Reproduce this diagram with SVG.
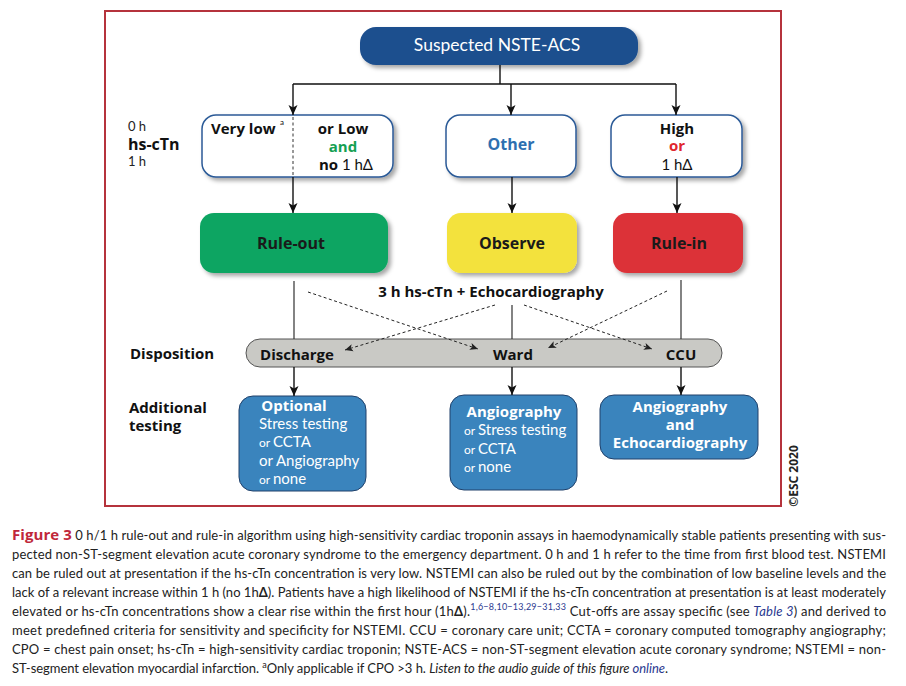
<svg xmlns="http://www.w3.org/2000/svg" width="906" height="686" viewBox="0 0 906 686">
<defs>
<filter id="sh" x="-10%" y="-10%" width="130%" height="140%">
<feDropShadow dx="3" dy="3" stdDeviation="2" flood-color="#000" flood-opacity="0.35"/>
</filter>
<marker id="ah" viewBox="0 0 10 10" refX="10" refY="5" markerWidth="10" markerHeight="10" markerUnits="userSpaceOnUse" orient="auto">
<path d="M0,0.5 L10,5 L0,9.5 L2.5,5 z" fill="#111"/>
</marker>
<marker id="ahs" viewBox="0 0 10 10" refX="10" refY="5" markerWidth="8" markerHeight="8" markerUnits="userSpaceOnUse" orient="auto">
<path d="M0,0.5 L10,5 L0,9.5 L2.5,5 z" fill="#222"/>
</marker>
</defs>
<style>
.b{font-family:"Open Sans","Liberation Sans",sans-serif;font-weight:bold}
.r{font-family:Lato,"Liberation Sans",sans-serif}
.cap{font-family:Lato,"Liberation Sans",sans-serif;font-size:13px;fill:#222}
.ln{stroke:#111;stroke-width:1.4;fill:none}
.ln2{stroke:#333;stroke-width:1.2;fill:none}
.dsh{stroke:#222;stroke-width:1;stroke-dasharray:3,2.5;fill:none}
.wb{fill:#fff;stroke:#2b5a97;stroke-width:1.5}
.bb{fill:#3a84bd;stroke:#20406a;stroke-width:1}
.m{text-anchor:middle}
</style>
<rect x="105" y="11" width="676" height="495" fill="#fff" stroke="#b5333c" stroke-width="2"/>

<g id="n-suspected">
<rect x="360" y="27" width="278" height="38" rx="16" fill="#1e4f8e" filter="url(#sh)"/>
<text class="r m" x="497" y="51" font-size="17.5" fill="#fff">Suspected NSTE-ACS</text>
</g>

<g id="labels-left">
<text class="r" x="128" y="131" font-size="13" fill="#222">0 h</text>
<text class="b" x="128" y="150" font-size="16" fill="#111">hs-cTn</text>
<text class="r" x="128" y="166" font-size="13" fill="#222">1 h</text>
<text class="b" x="130" y="359" font-size="15" fill="#111">Disposition</text>
<text class="b" x="129" y="413" font-size="15" fill="#111">Additional</text>
<text class="b" x="129" y="431" font-size="15" fill="#111">testing</text>
</g>

<g id="n-low">
<rect class="wb" x="202" y="115" width="191" height="62" rx="14" filter="url(#sh)"/>
<path d="M293,117 V177" stroke="#333" stroke-width="1" stroke-dasharray="3,2.5"/>
<text class="b" x="211" y="134" font-size="15" fill="#111">Very low</text>
<text class="r" x="280" y="125" font-size="8" fill="#111">a</text>
<text class="b m" x="343" y="134" font-size="15" fill="#111">or Low</text>
<text class="b m" x="343" y="152" font-size="15" fill="#14a052">and</text>
<text class="m" x="346" y="170" font-size="15" fill="#111"><tspan class="b">no</tspan><tspan class="r"> 1 hΔ</tspan></text>
</g>

<g id="n-other">
<rect class="wb" x="446" y="115" width="130" height="62" rx="14" filter="url(#sh)"/>
<text class="b m" x="511" y="150" font-size="16" fill="#2e6fb0">Other</text>
</g>

<g id="n-high">
<rect class="wb" x="611" y="115" width="131" height="62" rx="14" filter="url(#sh)"/>
<text class="b m" x="677" y="134" font-size="15" fill="#111">High</text>
<text class="b m" x="677" y="151" font-size="15" fill="#e0262e">or</text>
<text class="r m" x="677" y="170" font-size="15" fill="#111">1 hΔ</text>
</g>

<g id="n-ruleout">
<rect x="200" y="213" width="188" height="60" rx="14" fill="#0aa562" filter="url(#sh)"/>
<text class="b m" x="291" y="249" font-size="16" fill="#1a1a1a">Rule-out</text>
</g>
<g id="n-observe">
<rect x="447" y="213" width="130" height="60" rx="14" fill="#f3e23c" filter="url(#sh)"/>
<text class="b m" x="512" y="249" font-size="16" fill="#1a1a1a">Observe</text>
</g>
<g id="n-rulein">
<rect x="613" y="213" width="130" height="60" rx="14" fill="#dc3239" filter="url(#sh)"/>
<text class="b m" x="679" y="249" font-size="16" fill="#1a1a1a">Rule-in</text>
</g>

<text class="b m" x="491" y="297" font-size="15" fill="#111">3 h hs-cTn + Echocardiography</text>

<g id="n-disposition">
<rect x="246" y="339" width="476" height="28" rx="14" fill="#c9c9c5" stroke="#555" stroke-width="1"/>
<text class="b m" x="297" y="360" font-size="15" fill="#111">Discharge</text>
<text class="b m" x="513" y="360" font-size="15" fill="#111">Ward</text>
<text class="b m" x="681" y="360" font-size="15" fill="#111">CCU</text>
</g>

<g id="n-optional">
<rect class="bb" x="239" y="396" width="127" height="95" rx="14"/>
<text class="b m" x="294" y="411" font-size="15" fill="#fff">Optional</text>
<text class="r" x="259" y="429" font-size="15" fill="#fff">Stress testing</text>
<text class="r" x="259" y="447" font-size="15" fill="#fff"><tspan font-size="12">or </tspan>CCTA</text>
<text class="r" x="259" y="466" font-size="15" fill="#fff">or Angiography</text>
<text class="r" x="259" y="484" font-size="15" fill="#fff"><tspan font-size="12">or </tspan>none</text>
</g>

<g id="n-angio">
<rect class="bb" x="450" y="395" width="127" height="95" rx="14"/>
<text class="b m" x="514" y="417" font-size="15" fill="#fff">Angiography</text>
<text class="r" x="464" y="435" font-size="15" fill="#fff"><tspan font-size="12">or </tspan>Stress testing</text>
<text class="r" x="464" y="454" font-size="15" fill="#fff"><tspan font-size="12">or </tspan>CCTA</text>
<text class="r" x="464" y="472" font-size="15" fill="#fff"><tspan font-size="12">or </tspan>none</text>
</g>

<g id="n-angioecho">
<rect class="bb" x="600" y="395" width="158" height="64" rx="14"/>
<text class="b m" x="680" y="412" font-size="15" fill="#fff">Angiography</text>
<text class="b m" x="680" y="430" font-size="15" fill="#fff">and</text>
<text class="b m" x="680" y="448" font-size="15" fill="#fff">Echocardiography</text>
</g>

<g id="connectors">
<path class="ln" d="M500,65 V84 M293,84 H676"/>
<path class="ln" d="M293,84 V115" marker-end="url(#ah)"/>
<path class="ln" d="M511,84 V115" marker-end="url(#ah)"/>
<path class="ln" d="M676,84 V115" marker-end="url(#ah)"/>
<path class="ln" d="M293,177 V213" marker-end="url(#ah)"/>
<path class="ln" d="M512,177 V213" marker-end="url(#ah)"/>
<path class="ln" d="M677,177 V213" marker-end="url(#ah)"/>
<path class="ln2" d="M294,281 V339 M512,305 V339 M681,280 V339"/>
<path class="ln" d="M294,367 V396" marker-end="url(#ah)"/>
<path class="ln" d="M512,367 V395" marker-end="url(#ah)"/>
<path class="ln" d="M681,367 V395" marker-end="url(#ah)"/>
<path class="dsh" d="M308,292 L478,349" marker-end="url(#ahs)"/>
<path class="dsh" d="M495,305 L345,350" marker-end="url(#ahs)"/>
<path class="dsh" d="M524,305 L652,349" marker-end="url(#ahs)"/>
<path class="dsh" d="M667,291 L548,348" marker-end="url(#ahs)"/>
</g>

<text class="b m" x="0" y="0" font-size="12" fill="#222" transform="translate(798,476) rotate(-90)">©ESC 2020</text>

<g id="caption">
<text class="cap" x="12" y="540" textLength="874" lengthAdjust="spacing"><tspan class="b" font-size="15" fill="#c0273a">Figure 3</tspan> 0 h/1 h rule-out and rule-in algorithm using high-sensitivity cardiac troponin assays in haemodynamically stable patients presenting with sus-</text>
<text class="cap" x="12" y="559" textLength="874" lengthAdjust="spacing">pected non-ST-segment elevation acute coronary syndrome to the emergency department. 0 h and 1 h refer to the time from first blood test. NSTEMI</text>
<text class="cap" x="12" y="578" textLength="874" lengthAdjust="spacing">can be ruled out at presentation if the hs-cTn concentration is very low. NSTEMI can also be ruled out by the combination of low baseline levels and the</text>
<text class="cap" x="12" y="597" textLength="874" lengthAdjust="spacing">lack of a relevant increase within 1 h (no 1h<tspan font-weight="bold">Δ</tspan>). Patients have a high likelihood of NSTEMI if the hs-cTn concentration at presentation is at least moderately</text>
<text class="cap" x="12" y="616" textLength="874" lengthAdjust="spacing">elevated or hs-cTn concentrations show a clear rise within the first hour (1h<tspan font-weight="bold">Δ</tspan>).<tspan font-size="9" dy="-6" fill="#2b3990">1,6−8,10−13,29−31,33</tspan><tspan dy="6"> Cut-offs are assay specific (see </tspan><tspan font-style="italic" fill="#2b3990">Table 3</tspan>) and derived to</text>
<text class="cap" x="12" y="635" textLength="874" lengthAdjust="spacing">meet predefined criteria for sensitivity and specificity for NSTEMI. CCU = coronary care unit; CCTA = coronary computed tomography angiography;</text>
<text class="cap" x="12" y="654" textLength="874" lengthAdjust="spacing">CPO = chest pain onset; hs-cTn = high-sensitivity cardiac troponin; NSTE-ACS = non-ST-segment elevation acute coronary syndrome; NSTEMI = non-</text>
<text class="cap" x="12" y="673" textLength="656" lengthAdjust="spacing">ST-segment elevation myocardial infarction. <tspan font-size="9" dy="-5">a</tspan><tspan dy="5">Only applicable if CPO &gt;3 h. </tspan><tspan font-style="italic">Listen to the audio guide of this figure </tspan><tspan font-style="italic" fill="#2b3990">online</tspan>.</text>
</g>
</svg>
